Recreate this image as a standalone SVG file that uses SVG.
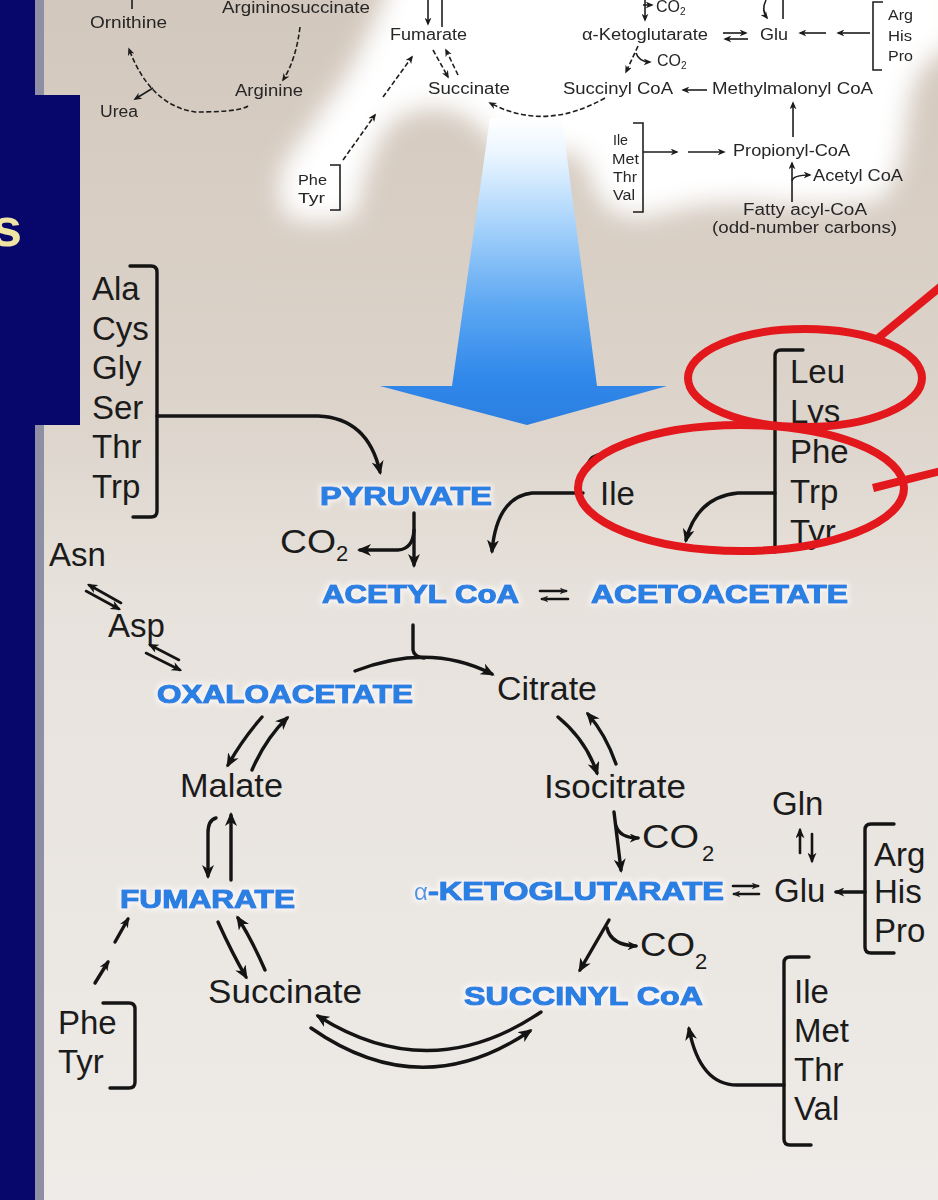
<svg xmlns="http://www.w3.org/2000/svg" width="938" height="1200" viewBox="0 0 938 1200">
<defs>
<linearGradient id="bg" x1="0" y1="0" x2="0" y2="1200" gradientUnits="userSpaceOnUse">
<stop offset="0" stop-color="#d3c8bd"/><stop offset="0.33" stop-color="#dcd3ca"/><stop offset="0.5" stop-color="#e7e2dc"/><stop offset="1" stop-color="#eeebe8"/>
</linearGradient>
<linearGradient id="ag" x1="0" y1="118" x2="0" y2="425" gradientUnits="userSpaceOnUse">
<stop offset="0" stop-color="#ffffff"/><stop offset="0.12" stop-color="#eaf5ff"/><stop offset="0.35" stop-color="#a6d2fb"/><stop offset="0.62" stop-color="#5aa6f2"/><stop offset="0.85" stop-color="#3088ea"/><stop offset="1" stop-color="#2b7fe0"/>
</linearGradient>
<filter id="cloud" filterUnits="userSpaceOnUse" x="-100" y="-100" width="1200" height="450"><feGaussianBlur stdDeviation="12"/></filter>
<filter id="soft" filterUnits="userSpaceOnUse" x="0" y="-10" width="938" height="260"><feGaussianBlur stdDeviation="0.4"/></filter>
<filter id="glow" x="-10%" y="-50%" width="120%" height="200%">
<feMorphology in="SourceAlpha" operator="dilate" radius="2" result="d"/>
<feGaussianBlur in="d" stdDeviation="2.5" result="bl"/>
<feFlood flood-color="#ffffff" flood-opacity="0.65"/>
<feComposite in2="bl" operator="in" result="g"/>
<feMerge><feMergeNode in="g"/><feMergeNode in="SourceGraphic"/></feMerge>
</filter>
<marker id="a" viewBox="0 0 14 12" refX="11" refY="6" markerWidth="14" markerHeight="12" markerUnits="userSpaceOnUse" orient="auto"><path d="M0,0 L14,6 L0,12 L4,6 z" fill="#141414"/></marker>
<marker id="am" viewBox="0 0 14 12" refX="11" refY="6" markerWidth="11" markerHeight="9" markerUnits="userSpaceOnUse" orient="auto"><path d="M0,0 L14,6 L0,12 L4,6 z" fill="#141414"/></marker>
<marker id="as" viewBox="0 0 14 12" refX="11" refY="6" markerWidth="8" markerHeight="7" markerUnits="userSpaceOnUse" orient="auto"><path d="M0,0 L14,6 L0,12 L4,6 z" fill="#1e1e1e"/></marker>
<style>
.t{font-family:"Liberation Sans",Arial,sans-serif;font-size:33px;fill:#1b1b1b}
.sub{font-size:22px}
.sm{font-family:"Liberation Sans",Arial,sans-serif;font-size:16px;fill:#262626}
.xs{font-family:"Liberation Sans",Arial,sans-serif;font-size:14px;fill:#262626}
.b{font-family:"Liberation Sans",Arial,sans-serif;font-weight:bold;font-size:26px;fill:#2a80e2;stroke:#2a80e2;stroke-width:1.2;stroke-linejoin:round}
.c{fill:none;stroke:#141414;stroke-width:3.4;stroke-linecap:round;stroke-linejoin:round}
.cm{fill:none;stroke:#141414;stroke-width:2.6;stroke-linecap:round}
.ct{fill:none;stroke:#1e1e1e;stroke-width:1.6}
.d{stroke-dasharray:5 2.5}
.ma{marker-end:url(#a)}
.mm{marker-end:url(#am)}
.ms{marker-end:url(#as)}
.oval{fill:none;stroke:#e2181c;stroke-width:8}
</style>
</defs>

<!-- background -->
<rect x="0" y="0" width="938" height="1200" fill="url(#bg)"/>
<path d="M395,-30 L960,-30 L960,45 Q915,55 908,110 Q900,185 880,200 Q820,210 760,202 Q700,200 655,215 Q620,222 600,200 Q590,170 575,150 Q540,160 500,150 Q475,112 440,108 Q400,108 385,130 Q362,170 356,215 Q320,228 285,215 Q272,180 290,155 Q320,115 350,70 Q375,25 395,-30 Z" fill="#ffffff" filter="url(#cloud)"/>
<rect x="0" y="0" width="35" height="1200" fill="#07076b"/>
<rect x="35" y="0" width="9" height="1200" fill="#8e8ea4"/>
<rect x="0" y="95" width="80" height="330" fill="#07076b"/>
<text x="-8" y="246" font-family="Liberation Sans, Arial, sans-serif" font-weight="bold" font-size="54" fill="#f0e4a4">s</text>

<!-- big blue arrow -->
<path id="big-arrow" d="M490,118 L562,118 L597,386 L667,386 L527,425 L380,386 L452,386 Z" fill="url(#ag)"/>

<!-- top (urea cycle / inset) -->
<g id="inset" filter="url(#soft)">
<g id="connectors-top">
<path class="ct" d="M132,0 L132,9"/>
<path class="ct d ms" d="M300,27 Q296,60 283,80"/>
<path class="ct d ms" d="M248,106 Q240,112 195,112 Q150,105 129,49"/>
<path class="ct ms" d="M153,88 L135,99"/>
<path class="ct ms" d="M428,0 L428,24"/>
<path class="ct" d="M442,27 L442,0"/>
<path class="ct d ms" d="M433,50 L448,77"/>
<path class="ct d ms" d="M458,75 L446,50"/>
<path class="ct d ms" d="M605,98 Q545,132 490,103"/>
<path class="ct d ms" d="M343,160 L375,115"/>
<path class="ct d ms" d="M383,97 L412,57"/>
<path class="ct ms" d="M645,0 L645,20"/>
<path class="ct ms" d="M643,5 L652,5"/>
<path class="ct ms" d="M723,33 L746,33"/>
<path class="ct ms" d="M748,39 L725,39"/>
<path class="ct ms" d="M766,0 Q761,10 767,18"/>
<path class="ct" d="M783,19 L783,0"/>
<path class="ct ms" d="M826,33 L800,33"/>
<path class="ct ms" d="M870,33 L838,33"/>
<path class="ct d ms" d="M638,46 L626,72"/>
<path class="ct ms" d="M636,53 Q639,62 650,62"/>
<path class="ct ms" d="M707,90 L683,90"/>
<path class="ct ms" d="M793,137 L793,103"/>
<path class="ct ms" d="M643,152 L677,152"/>
<path class="ct ms" d="M688,152 L724,152"/>
<path class="ct ms" d="M792,202 L792,163"/>
<path class="ct ms" d="M792,181 Q793,175 810,175"/>
</g>
<g id="t-ornithine"><text class="sm" x="90" y="28" textLength="77" lengthAdjust="spacingAndGlyphs">Ornithine</text></g>
<g id="t-argininosuccinate"><text class="sm" x="222" y="13" textLength="148" lengthAdjust="spacingAndGlyphs">Argininosuccinate</text></g>
<g id="t-arginine"><text class="sm" x="235" y="96" textLength="68" lengthAdjust="spacingAndGlyphs">Arginine</text></g>
<g id="t-urea"><text class="sm" x="100" y="117" textLength="38" lengthAdjust="spacingAndGlyphs">Urea</text></g>
<g id="t-fumarate"><text class="sm" x="390" y="40" textLength="77" lengthAdjust="spacingAndGlyphs">Fumarate</text></g>
<g id="t-succinate"><text class="sm" x="428" y="94" textLength="82" lengthAdjust="spacingAndGlyphs">Succinate</text></g>
<g id="t-phetyr"><text class="xs" x="298" y="185" textLength="29" lengthAdjust="spacingAndGlyphs">Phe</text><text class="xs" x="298" y="203" textLength="27" lengthAdjust="spacingAndGlyphs">Tyr</text><path class="ct" d="M330,165 L340,165 L340,210 L330,210"/></g>
<g id="t-co2a"><text class="sm" x="656" y="12">CO<tspan font-size="10" dy="3">2</tspan></text></g>
<g id="t-akg"><text class="sm" x="582" y="40" textLength="126" lengthAdjust="spacingAndGlyphs">α-Ketoglutarate</text></g>
<g id="t-glu"><text class="sm" x="760" y="40" textLength="28" lengthAdjust="spacingAndGlyphs">Glu</text></g>
<g id="t-arghispro"><text class="xs" x="888" y="20" textLength="25" lengthAdjust="spacingAndGlyphs">Arg</text><text class="xs" x="888" y="41" textLength="24" lengthAdjust="spacingAndGlyphs">His</text><text class="xs" x="888" y="61" textLength="25" lengthAdjust="spacingAndGlyphs">Pro</text><path class="ct" d="M883,2 L873,2 L873,70 L882,70"/></g>
<g id="t-co2b"><text class="sm" x="657" y="66">CO<tspan font-size="10" dy="3">2</tspan></text></g>
<g id="t-succinylcoa"><text class="sm" x="563" y="94" textLength="110" lengthAdjust="spacingAndGlyphs">Succinyl CoA</text></g>
<g id="t-methylmalonyl"><text class="sm" x="712" y="94" textLength="161" lengthAdjust="spacingAndGlyphs">Methylmalonyl CoA</text></g>
<g id="t-ilemetthrval"><text class="xs" x="613" y="145" textLength="15" lengthAdjust="spacingAndGlyphs">Ile</text><text class="xs" x="612" y="164" textLength="27" lengthAdjust="spacingAndGlyphs">Met</text><text class="xs" x="613" y="182" textLength="24" lengthAdjust="spacingAndGlyphs">Thr</text><text class="xs" x="613" y="200" textLength="22" lengthAdjust="spacingAndGlyphs">Val</text><path class="ct" d="M633,123 L643,123 L643,212 L633,212"/></g>
<g id="t-propionyl"><text class="sm" x="733" y="156" textLength="117" lengthAdjust="spacingAndGlyphs">Propionyl-CoA</text></g>
<g id="t-acetylcoa"><text class="sm" x="813" y="181" textLength="90" lengthAdjust="spacingAndGlyphs">Acetyl CoA</text></g>
<g id="t-fattyacyl"><text class="sm" x="743" y="215" textLength="124" lengthAdjust="spacingAndGlyphs">Fatty acyl-CoA</text><text class="sm" x="712" y="233" textLength="185" lengthAdjust="spacingAndGlyphs">(odd-number carbons)</text></g>
</g>

<!-- main connectors -->
<g id="connectors">
<path class="c ma" d="M157,416 L318,416 Q368,418 380,472"/>
<path class="c ma" d="M414,513 L414,565"/>
<path class="c ma" d="M414,530 Q413,549 398,550 L360,550"/>
<path class="c ma" d="M583,493 L532,493 Q497,497 492,551"/>
<path class="c ma" d="M775,493 L738,493 Q697,497 686,540"/>
<path class="c" d="M598,455 Q588,458 586,470"/>
<path class="cm ms" d="M540,591 L566,591"/>
<path class="cm ms" d="M568,599 L542,599"/>
<path class="c" d="M413,625 L413,650 Q414,657 424,658"/>
<path class="c ma" d="M355,671 Q430,642 492,674"/>
<path class="c ma" d="M558,717 Q586,740 597,773"/>
<path class="c ma" d="M616,764 Q606,735 588,714"/>
<path class="c ma" d="M614,812 L621,870"/>
<path class="c mm" d="M616,826 Q620,838 638,838"/>
<path class="cm ms" d="M733,886 L758,886"/>
<path class="cm ms" d="M759,894 L734,894"/>
<path class="cm mm" d="M800,853 L800,830"/>
<path class="cm mm" d="M812,834 L812,861"/>
<path class="c mm" d="M865,892 L836,892"/>
<path class="c ma" d="M609,920 L580,970"/>
<path class="c mm" d="M607,928 Q611,945 636,946"/>
<path class="c ma" d="M784,1085 L737,1085 Q700,1085 689,1029"/>
<path class="c ma" d="M541,1012 Q430,1087 318,1016"/>
<path class="c ma" d="M311,1028 Q421,1105 530,1031"/>
<path class="c ma" d="M218,922 Q233,955 246,977"/>
<path class="c ma" d="M265,970 Q252,940 238,918"/>
<path class="c ma" d="M216,818 Q208,820 208,833 L208,876"/>
<path class="c ma" d="M231,880 L231,815"/>
<path class="c ma" d="M262,717 Q242,740 228,765"/>
<path class="c ma" d="M252,770 Q266,738 287,718"/>
<path class="cm mm" d="M179,660 L150,645"/>
<path class="cm mm" d="M146,653 L180,670"/>
<path class="cm mm" d="M121,603 L89,585"/>
<path class="cm mm" d="M86,591 L119,609"/>
<path class="c mm" d="M95,983 L108,962"/>
<path class="c mm" d="M115,942 L128,919"/>
</g>

<!-- main nodes -->
<g id="n-ala-group">
<text class="t" x="92" y="300">Ala</text><text class="t" x="92" y="340">Cys</text><text class="t" x="92" y="379">Gly</text><text class="t" x="92" y="419">Ser</text><text class="t" x="92" y="458">Thr</text><text class="t" x="92" y="498">Trp</text>
<path class="c" d="M130,266 L151,266 Q157,266 157,272 L157,511 Q157,517 151,517 L133,517"/>
</g>
<g id="n-pyruvate" filter="url(#glow)"><text class="b" x="320" y="505" textLength="172" lengthAdjust="spacingAndGlyphs">PYRUVATE</text></g>
<g id="n-co2-pyr"><text class="t" x="280" y="553" textLength="56" lengthAdjust="spacingAndGlyphs">CO</text><text class="t sub" x="336" y="561">2</text></g>
<g id="n-acetylcoa" filter="url(#glow)"><text class="b" x="322" y="603" textLength="197" lengthAdjust="spacingAndGlyphs">ACETYL CoA</text></g>
<g id="n-acetoacetate" filter="url(#glow)"><text class="b" x="591" y="603" textLength="257" lengthAdjust="spacingAndGlyphs">ACETOACETATE</text></g>
<g id="n-ile-a"><text class="t" x="600" y="505">Ile</text></g>
<g id="n-leu-group">
<text class="t" x="790" y="383">Leu</text><text class="t" x="790" y="423">Lys</text><text class="t" x="790" y="463">Phe</text><text class="t" x="790" y="503">Trp</text><text class="t" x="790" y="543">Tyr</text>
<path class="c" d="M803,350 L781,350 Q775,350 775,356 L775,552"/>
</g>
<g id="n-asn"><text class="t" x="49" y="566">Asn</text></g>
<g id="n-asp"><text class="t" x="108" y="637">Asp</text></g>
<g id="n-oxaloacetate" filter="url(#glow)"><text class="b" x="157" y="703" textLength="256" lengthAdjust="spacingAndGlyphs">OXALOACETATE</text></g>
<g id="n-citrate"><text class="t" x="497" y="700" textLength="100" lengthAdjust="spacingAndGlyphs">Citrate</text></g>
<g id="n-isocitrate"><text class="t" x="544" y="798" textLength="142" lengthAdjust="spacingAndGlyphs">Isocitrate</text></g>
<g id="n-co2-iso"><text class="t" x="642" y="848" textLength="57" lengthAdjust="spacingAndGlyphs">CO</text><text class="t sub" x="702" y="861">2</text></g>
<g id="n-akg" filter="url(#glow)"><text x="414" y="900" font-family="Liberation Sans, Arial, sans-serif" font-size="24" fill="#4d94e4">α</text><text class="b" x="428" y="900" textLength="296" lengthAdjust="spacingAndGlyphs">-KETOGLUTARATE</text></g>
<g id="n-gln"><text class="t" x="772" y="815">Gln</text></g>
<g id="n-glu"><text class="t" x="774" y="902">Glu</text></g>
<g id="n-arg-group">
<text class="t" x="874" y="866">Arg</text><text class="t" x="874" y="903">His</text><text class="t" x="874" y="942">Pro</text>
<path class="c" d="M894,824 L871,824 Q865,824 865,830 L865,947 Q865,953 871,953 L894,953"/>
</g>
<g id="n-co2-akg"><text class="t" x="640" y="956" textLength="55" lengthAdjust="spacingAndGlyphs">CO</text><text class="t sub" x="695" y="969">2</text></g>
<g id="n-succinylcoa" filter="url(#glow)"><text class="b" x="464" y="1005" textLength="239" lengthAdjust="spacingAndGlyphs">SUCCINYL CoA</text></g>
<g id="n-ile-group">
<text class="t" x="794" y="1003">Ile</text><text class="t" x="794" y="1042">Met</text><text class="t" x="794" y="1081">Thr</text><text class="t" x="794" y="1120">Val</text>
<path class="c" d="M809,957 L790,957 Q784,957 784,963 L784,1139 Q784,1145 790,1145 L811,1145"/>
</g>
<g id="n-succinate"><text class="t" x="208" y="1003" textLength="154" lengthAdjust="spacingAndGlyphs">Succinate</text></g>
<g id="n-malate"><text class="t" x="180" y="797" textLength="103" lengthAdjust="spacingAndGlyphs">Malate</text></g>
<g id="n-fumarate" filter="url(#glow)"><text class="b" x="120" y="908" textLength="175" lengthAdjust="spacingAndGlyphs">FUMARATE</text></g>
<g id="n-phetyr">
<text class="t" x="58" y="1034">Phe</text><text class="t" x="58" y="1073">Tyr</text>
<path class="c" d="M103,1003 L129,1003 Q135,1003 135,1009 L135,1082 Q135,1088 129,1088 L110,1088"/>
</g>

<!-- red highlight ovals -->
<g id="highlight">
<ellipse class="oval" cx="805" cy="378" rx="117" ry="49"/>
<ellipse class="oval" cx="741" cy="488" rx="163" ry="63"/>
<path class="oval" d="M877,339 L945,283"/>
<path class="oval" d="M873,488 L945,470"/>
</g>
</svg>
